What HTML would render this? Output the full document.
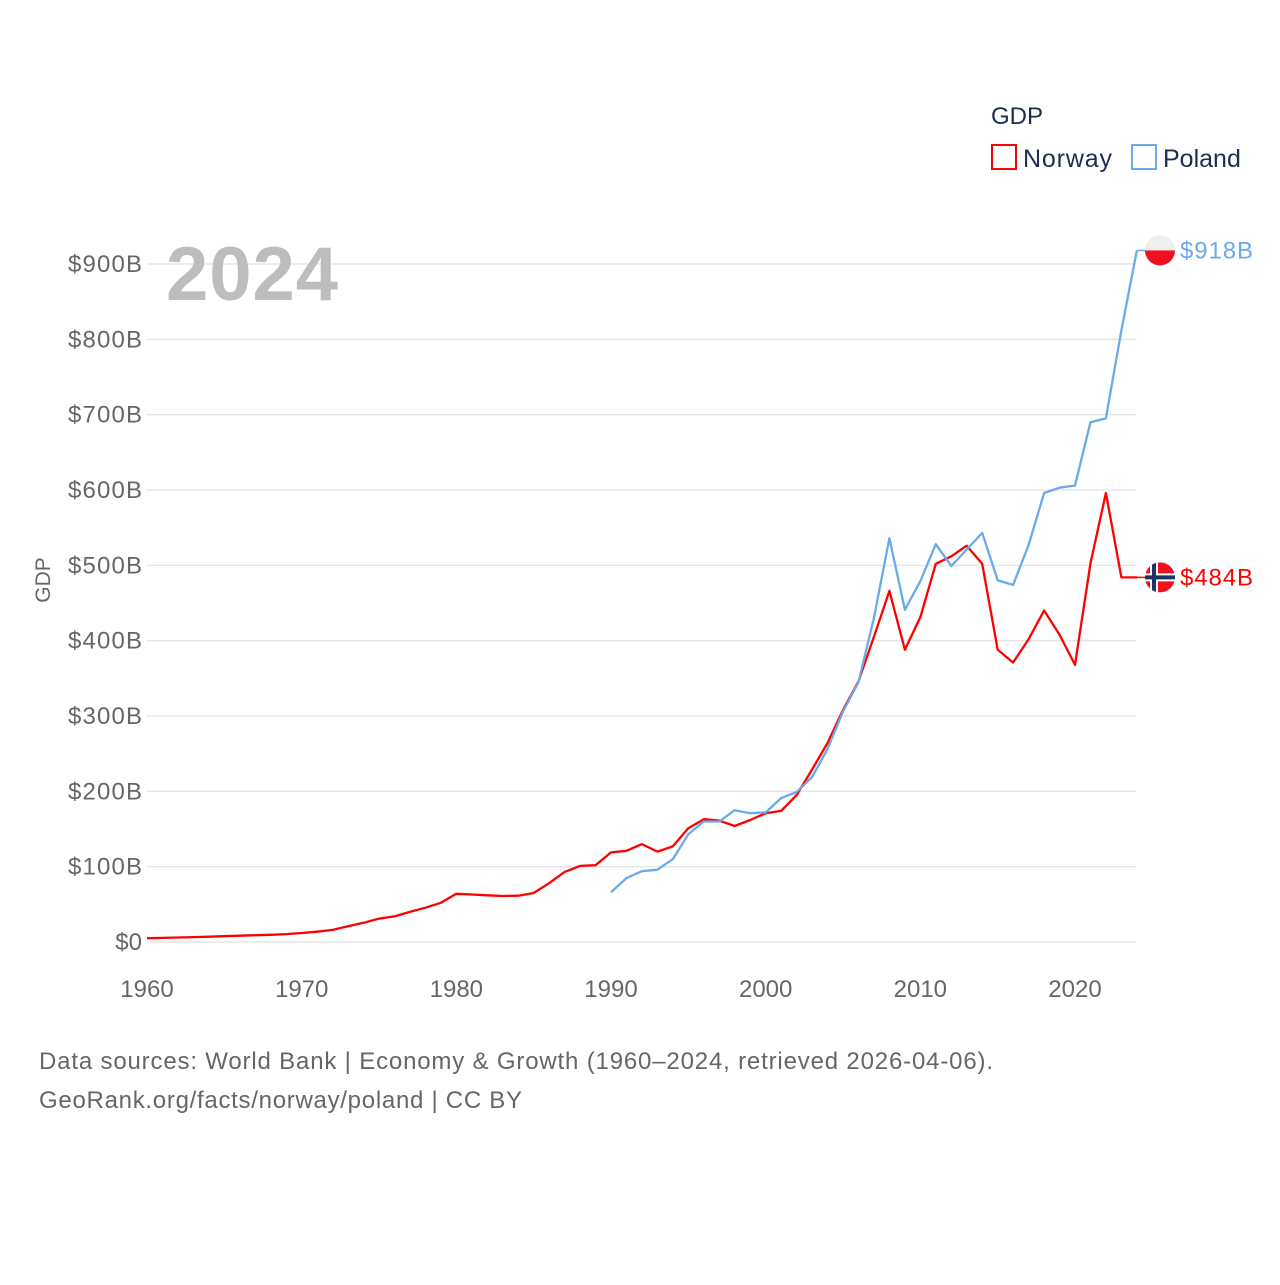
<!DOCTYPE html>
<html><head><meta charset="utf-8"><style>
body{margin:0;background:#fff;font-family:"Liberation Sans",sans-serif}
svg text{font-family:"Liberation Sans",sans-serif}
</style></head><body>
<svg width="1280" height="1280" viewBox="0 0 1280 1280">
<g id="grid"></g>
<g id="yt"></g>
<g id="xt"></g>
<text x="50" y="580" transform="rotate(-90 50 580)" text-anchor="middle" font-size="21" fill="#666">GDP</text>
<text x="166" y="300" font-size="76" font-weight="bold" fill="#bdbdbd" textLength="172">2024</text>
<g id="lines"></g>
<g>
<text x="991" y="124" font-size="24" fill="#1a2e4f">GDP</text>
<g><rect x="992" y="145" width="24" height="24" fill="none" stroke="#f00" stroke-width="2"/><text x="1023" y="167" font-size="25" fill="#1a2e4f" textLength="89">Norway</text></g>
<g><rect x="1132" y="145" width="24" height="24" fill="none" stroke="#6aaae8" stroke-width="2"/><text x="1163" y="167" font-size="25" fill="#1a2e4f">Poland</text></g>
</g>
<text x="39" y="1069" font-size="24" fill="#666" textLength="954">Data sources: World Bank | Economy &amp; Growth (1960–2024, retrieved 2026-04-06).</text>
<text x="39" y="1108" font-size="24" fill="#666" textLength="483">GeoRank.org/facts/norway/poland | CC BY</text>
</svg>
<script>
const years=[];for(let y=1960;y<=2024;y++)years.push(y);
const norway=[5,5.5,6,6.5,7,7.7,8.3,9,9.6,10.5,12,13.7,16,21,25.5,31,34,40,45.5,52,64,63,62,61,61.5,65,78,93,101,102,119,121,130,120,127,151,163,161,154,162,171,174,195,229,264,308,346,405,466,388,431,502,512,526,502,388,371,402,440,408,368,503,596,484,484];
const polandYears=[];for(let y=1990;y<=2024;y++)polandYears.push(y);
const poland=[66,85,94,96,110,143,160,160,175,171,172,191,199,219,256,306,345,430,536,441,479,528,499,521,543,480,474,527,596,603,606,690,695,812,918];
const yTicks=[0,100,200,300,400,500,600,700,800,900];
const yTickLabels=["$0","$100B","$200B","$300B","$400B","$500B","$600B","$700B","$800B","$900B"];
const xTicks=[1960,1970,1980,1990,2000,2010,2020];
const NS="http://www.w3.org/2000/svg";
const X=v=>147+(v-1960)*(1075-147)/60;
const Y=v=>942-v*(942-264)/900;
function el(tag,attrs,parent,txt){const e=document.createElementNS(NS,tag);for(const k in attrs)e.setAttribute(k,attrs[k]);if(txt!=null)e.textContent=txt;parent.appendChild(e);return e;}
const grid=document.getElementById('grid'),yt=document.getElementById('yt'),xt=document.getElementById('xt'),lines=document.getElementById('lines');
yTicks.forEach((t,i)=>{
 const l=el('line',{x1:147,x2:1136,y1:Y(t),y2:Y(t),stroke:'#e6e6e6','stroke-width':1.5},grid);
 
 
 const tx=el('text',{x:142,y:Y(t)+8,'text-anchor':'end','font-size':24,fill:'#666'},yt,yTickLabels[i]);
 if(i>0)tx.setAttribute('textLength',74);
 
 
});
xTicks.forEach(t=>{
 const tx=el('text',{x:X(t),y:997,'text-anchor':'middle','font-size':24,fill:'#666'},xt,String(t));
 
 
});
function line(xs,vs,color,name){
 const d=xs.map((x,i)=>(i?'L':'M')+X(x).toFixed(1)+','+Y(vs[i]).toFixed(1)).join('');
 const p=el('path',{d:d,fill:'none',stroke:color,'stroke-width':2.3,'stroke-linejoin':'round'},lines);
 
 
 const ly=Y(vs[vs.length-1]);
 const c=el('line',{x1:X(xs[xs.length-1]),x2:1146,y1:ly,y2:ly,stroke:color,'stroke-width':1.5},lines);
 
 
 return ly;
}
const ny=line(years,norway,'#f00','norway-line');
const py=line(polandYears,poland,'#6aaae8','poland-line');
const pf=el('g',{},lines);


el('clipPath',{id:'cp'},pf);el('circle',{cx:1160,cy:py,r:15},pf.lastChild);
el('rect',{x:1145,y:py-15,width:30,height:15,fill:'#eee','clip-path':'url(#cp)'},pf);
el('rect',{x:1145,y:py,width:30,height:15,fill:'#f01020','clip-path':'url(#cp)'},pf);
const pl=el('text',{x:1180,y:py+8,'font-size':24,fill:'#6aaae8',textLength:73},lines,'$'+poland[poland.length-1]+'B');


const nf=el('g',{},lines);


el('clipPath',{id:'cn'},nf);el('circle',{cx:1160,cy:ny,r:15},nf.lastChild);
el('rect',{x:1145,y:ny-15,width:30,height:30,fill:'#f01020','clip-path':'url(#cn)'},nf);
el('rect',{x:1150,y:ny-15,width:8,height:30,fill:'#fff','clip-path':'url(#cn)'},nf);
el('rect',{x:1145,y:ny-4,width:30,height:8,fill:'#fff','clip-path':'url(#cn)'},nf);
el('rect',{x:1152,y:ny-15,width:4,height:30,fill:'#1d3366','clip-path':'url(#cn)'},nf);
el('rect',{x:1145,y:ny-2,width:30,height:4,fill:'#1d3366','clip-path':'url(#cn)'},nf);
const nl=el('text',{x:1180,y:ny+8,'font-size':24,fill:'#f00',textLength:73},lines,'$'+norway[norway.length-1]+'B');


</script>
</body></html>
